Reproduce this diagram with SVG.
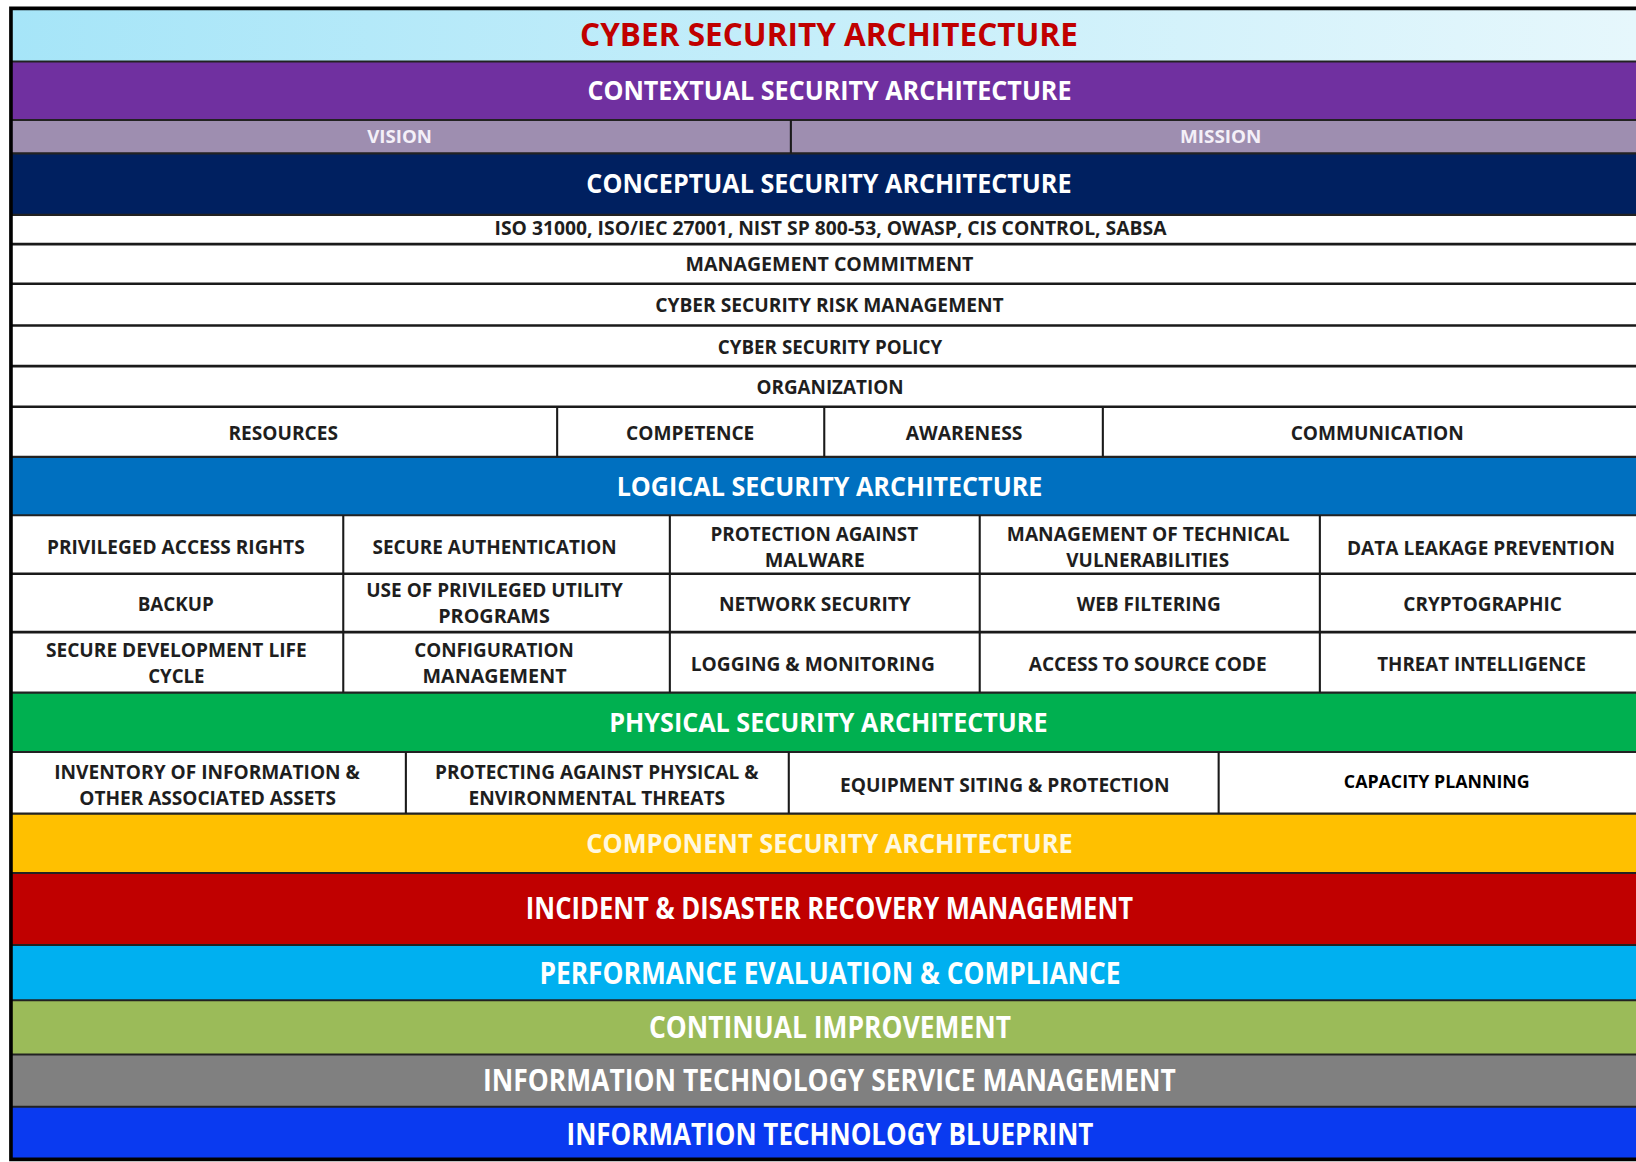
<svg xmlns="http://www.w3.org/2000/svg" width="1636" height="1162" viewBox="0 0 1636 1162">
<defs>
<linearGradient id="gTitle" x1="0" y1="0" x2="1" y2="0">
<stop offset="0" stop-color="#a6e5f8"/>
<stop offset="1" stop-color="#e6f7fc"/>
</linearGradient>
<style>
.hd{font-family:"Open Sans","Liberation Sans",sans-serif;font-weight:700;fill:#ffffff;text-anchor:middle}
.h1{font-size:26.5px}
.h2{font-size:28.5px}
.tt{font-family:"Open Sans","Liberation Sans",sans-serif;font-weight:700;font-size:30px;fill:#c00000;text-anchor:middle}
.cl{font-family:"Open Sans","Liberation Sans",sans-serif;font-weight:700;font-size:18.5px;fill:#1e1e1e;text-anchor:middle}
.vm{font-family:"Open Sans","Liberation Sans",sans-serif;font-weight:700;font-size:17px;fill:#f4f0f8;text-anchor:middle}
.wh{fill:#ffffff}
.sep{stroke:#1a1a1a;stroke-width:2.5;fill:none}
.bsep{stroke:#222222;stroke-width:2;fill:none}
.div{stroke:#1a1a1a;stroke-width:2;fill:none}
</style>
</defs>
<rect x="0" y="0" width="1636" height="1162" fill="#ffffff"/>
<g transform="scale(1.043367 1.043088)">
<g id="title">
<rect x="11" y="9" width="1557" height="50" fill="url(#gTitle)"/>
<text class="tt" x="794.5" y="43.7" textLength="477" lengthAdjust="spacingAndGlyphs">CYBER SECURITY ARCHITECTURE</text>
</g>
<g id="contextual">
<rect x="11" y="59" width="1557" height="56" fill="#7030a0"/>
<text class="hd h1" x="795" y="95.5" textLength="464" lengthAdjust="spacingAndGlyphs">CONTEXTUAL SECURITY ARCHITECTURE</text>
</g>
<g id="vision">
<rect x="11" y="115" width="747" height="32" fill="#9e8eb0"/>
<text class="vm" x="383" y="137" textLength="62" lengthAdjust="spacingAndGlyphs">VISION</text>
</g>
<g id="mission">
<rect x="758" y="115" width="810" height="32" fill="#9e8eb0"/>
<text class="vm" x="1170" y="137" textLength="78" lengthAdjust="spacingAndGlyphs">MISSION</text>
</g>
<g id="conceptual">
<rect x="11" y="147" width="1557" height="59" fill="#002060"/>
<text class="hd h1" x="794.5" y="185.5" textLength="465" lengthAdjust="spacingAndGlyphs">CONCEPTUAL SECURITY ARCHITECTURE</text>
</g>
<g id="standards">
<rect class="wh" x="11" y="206" width="1557" height="28"/>
<text class="cl" x="796" y="225.5" textLength="644" lengthAdjust="spacingAndGlyphs">ISO 31000, ISO/IEC 27001, NIST SP 800-53, OWASP, CIS CONTROL, SABSA</text>
</g>
<g id="commitment">
<rect class="wh" x="11" y="234" width="1557" height="38"/>
<text class="cl" x="795" y="259.5" textLength="276" lengthAdjust="spacingAndGlyphs">MANAGEMENT COMMITMENT</text>
</g>
<g id="risk">
<rect class="wh" x="11" y="272" width="1557" height="40"/>
<text class="cl" x="795" y="299.5" textLength="334" lengthAdjust="spacingAndGlyphs">CYBER SECURITY RISK MANAGEMENT</text>
</g>
<g id="policy">
<rect class="wh" x="11" y="312" width="1557" height="39"/>
<text class="cl" x="795.5" y="339.5" textLength="215" lengthAdjust="spacingAndGlyphs">CYBER SECURITY POLICY</text>
</g>
<g id="organization">
<rect class="wh" x="11" y="351" width="1557" height="39"/>
<text class="cl" x="795.5" y="377.5" textLength="141" lengthAdjust="spacingAndGlyphs">ORGANIZATION</text>
</g>
<g id="resources">
<rect class="wh" x="11" y="390" width="523" height="48"/>
<text class="cl" x="271.5" y="421.5" textLength="105" lengthAdjust="spacingAndGlyphs">RESOURCES</text>
</g>
<g id="competence">
<rect class="wh" x="534" y="390" width="256" height="48"/>
<text class="cl" x="661.5" y="421.5" textLength="123" lengthAdjust="spacingAndGlyphs">COMPETENCE</text>
</g>
<g id="awareness">
<rect class="wh" x="790" y="390" width="267" height="48"/>
<text class="cl" x="924" y="421.5" textLength="112" lengthAdjust="spacingAndGlyphs">AWARENESS</text>
</g>
<g id="communication">
<rect class="wh" x="1057" y="390" width="511" height="48"/>
<text class="cl" x="1320" y="421.5" textLength="166" lengthAdjust="spacingAndGlyphs">COMMUNICATION</text>
</g>
<g id="logical">
<rect x="11" y="438" width="1557" height="56" fill="#0070c0"/>
<text class="hd h1" x="795" y="475.5" textLength="408" lengthAdjust="spacingAndGlyphs">LOGICAL SECURITY ARCHITECTURE</text>
</g>
<g id="logical-grid-bg"><rect class="wh" x="11" y="494" width="1557" height="170"/></g>
<g id="privileged-access"><text class="cl" x="168.5" y="531.5" textLength="247" lengthAdjust="spacingAndGlyphs">PRIVILEGED ACCESS RIGHTS</text></g>
<g id="secure-auth"><text class="cl" x="474" y="531.5" textLength="234" lengthAdjust="spacingAndGlyphs">SECURE AUTHENTICATION</text></g>
<g id="malware"><text class="cl" x="780.5" y="518.5" textLength="199" lengthAdjust="spacingAndGlyphs">PROTECTION AGAINST</text><text class="cl" x="781" y="543.5" textLength="96" lengthAdjust="spacingAndGlyphs">MALWARE</text></g>
<g id="tech-vuln"><text class="cl" x="1100.5" y="518.5" textLength="271" lengthAdjust="spacingAndGlyphs">MANAGEMENT OF TECHNICAL</text><text class="cl" x="1100" y="543.5" textLength="156" lengthAdjust="spacingAndGlyphs">VULNERABILITIES</text></g>
<g id="dlp"><text class="cl" x="1419.5" y="532.5" textLength="257" lengthAdjust="spacingAndGlyphs">DATA LEAKAGE PREVENTION</text></g>
<g id="backup"><text class="cl" x="168.5" y="585.5" textLength="73" lengthAdjust="spacingAndGlyphs">BACKUP</text></g>
<g id="utility"><text class="cl" x="474" y="572.5" textLength="246" lengthAdjust="spacingAndGlyphs">USE OF PRIVILEGED UTILITY</text><text class="cl" x="473.5" y="597.5" textLength="107" lengthAdjust="spacingAndGlyphs">PROGRAMS</text></g>
<g id="network"><text class="cl" x="781" y="585.5" textLength="184" lengthAdjust="spacingAndGlyphs">NETWORK SECURITY</text></g>
<g id="web-filtering"><text class="cl" x="1101" y="585.5" textLength="138" lengthAdjust="spacingAndGlyphs">WEB FILTERING</text></g>
<g id="crypto"><text class="cl" x="1421" y="585.5" textLength="152" lengthAdjust="spacingAndGlyphs">CRYPTOGRAPHIC</text></g>
<g id="sdlc"><text class="cl" x="169" y="629.5" textLength="250" lengthAdjust="spacingAndGlyphs">SECURE DEVELOPMENT LIFE</text><text class="cl" x="169" y="654.5" textLength="54" lengthAdjust="spacingAndGlyphs">CYCLE</text></g>
<g id="config"><text class="cl" x="473.5" y="629.5" textLength="153" lengthAdjust="spacingAndGlyphs">CONFIGURATION</text><text class="cl" x="474" y="654.5" textLength="138" lengthAdjust="spacingAndGlyphs">MANAGEMENT</text></g>
<g id="logging"><text class="cl" x="779" y="643.5" textLength="234" lengthAdjust="spacingAndGlyphs">LOGGING &amp; MONITORING</text></g>
<g id="source-code"><text class="cl" x="1100" y="643.5" textLength="228" lengthAdjust="spacingAndGlyphs">ACCESS TO SOURCE CODE</text></g>
<g id="threat-intel"><text class="cl" x="1420" y="643.5" textLength="200" lengthAdjust="spacingAndGlyphs">THREAT INTELLIGENCE</text></g>
<g id="physical">
<rect x="11" y="664" width="1557" height="57" fill="#00b050"/>
<text class="hd h1" x="794" y="701.5" textLength="420" lengthAdjust="spacingAndGlyphs">PHYSICAL SECURITY ARCHITECTURE</text>
</g>
<g id="inventory"><rect class="wh" x="11" y="721" width="378" height="59"/><text class="cl" x="198.5" y="746.5" textLength="293" lengthAdjust="spacingAndGlyphs">INVENTORY OF INFORMATION &amp;</text><text class="cl" x="199" y="771.5" textLength="246" lengthAdjust="spacingAndGlyphs">OTHER ASSOCIATED ASSETS</text></g>
<g id="env-threats"><rect class="wh" x="389" y="721" width="367" height="59"/><text class="cl" x="572" y="746.5" textLength="310" lengthAdjust="spacingAndGlyphs">PROTECTING AGAINST PHYSICAL &amp;</text><text class="cl" x="572" y="771.5" textLength="246" lengthAdjust="spacingAndGlyphs">ENVIRONMENTAL THREATS</text></g>
<g id="equipment"><rect class="wh" x="756" y="721" width="412" height="59"/><text class="cl" x="963" y="759.5" textLength="316" lengthAdjust="spacingAndGlyphs">EQUIPMENT SITING &amp; PROTECTION</text></g>
<g id="capacity"><rect class="wh" x="1168" y="721" width="400" height="59"/><text class="cl" x="1377" y="755" textLength="178" lengthAdjust="spacingAndGlyphs" style="fill:#000000;font-size:17px">CAPACITY PLANNING</text></g>
<g id="component">
<rect x="11" y="780" width="1557" height="57" fill="#ffc000"/>
<text class="hd h1" x="795" y="817.5" textLength="466" lengthAdjust="spacingAndGlyphs" style="fill:#fff8e0">COMPONENT SECURITY ARCHITECTURE</text>
</g>
<g id="incident">
<rect x="11" y="837" width="1557" height="69" fill="#c00000"/>
<text class="hd h2" x="795" y="881" textLength="582" lengthAdjust="spacingAndGlyphs">INCIDENT &amp; DISASTER RECOVERY MANAGEMENT</text>
</g>
<g id="performance">
<rect x="11" y="906" width="1557" height="53" fill="#00b0f0"/>
<text class="hd h2" x="795.5" y="943" textLength="557" lengthAdjust="spacingAndGlyphs">PERFORMANCE EVALUATION &amp; COMPLIANCE</text>
</g>
<g id="continual">
<rect x="11" y="959" width="1557" height="52" fill="#9bbb59"/>
<text class="hd h2" x="795.5" y="995" textLength="347" lengthAdjust="spacingAndGlyphs">CONTINUAL IMPROVEMENT</text>
</g>
<g id="itsm">
<rect x="11" y="1011" width="1557" height="50" fill="#808080"/>
<text class="hd h2" x="795" y="1046" textLength="664" lengthAdjust="spacingAndGlyphs">INFORMATION TECHNOLOGY SERVICE MANAGEMENT</text>
</g>
<g id="blueprint">
<rect x="11" y="1061" width="1557" height="50" fill="#0a3af0"/>
<text class="hd h2" x="795.5" y="1098" textLength="505" lengthAdjust="spacingAndGlyphs">INFORMATION TECHNOLOGY BLUEPRINT</text>
</g>
<g id="connectors">
<path class="bsep" d="M11 59H1568M11 115H1568M11 147H1568M11 206H1568M11 438H1568M11 494H1568M11 664H1568M11 721H1568M11 780H1568M11 837H1568M11 906H1568M11 959H1568M11 1011H1568M11 1061H1568"/>
<path class="sep" d="M11 234H1568M11 272H1568M11 312H1568M11 351H1568M11 390H1568M11 550H1568M11 606H1568"/>
<path class="div" d="M758 115V147M534 390V438M790 390V438M1057 390V438M329 494V664M642 494V664M939 494V664M1265 494V664M389 721V780M756 721V780M1168 721V780"/>
<path d="M1568 8H10.5V1111.5H1568" stroke="#000000" stroke-width="3.5" fill="none"/>
</g>
</g>
</svg>
